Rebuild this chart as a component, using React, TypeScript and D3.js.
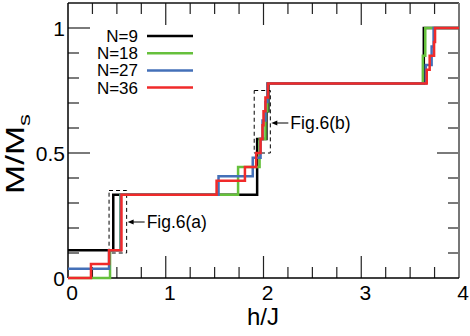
import React, { useRef, useEffect } from "react";
import * as d3 from "d3";

// step curves: field where each step starts, and M/Ms after it
const hN9 = [0, 0.463, 1.935, 2.03, 2.05, 3.64, 4];
const mN9 = [0.111, 0.333, 0.556, 0.667, 0.778, 1.0, 1.0];

const hN18 = [0, 0.43, 0.537, 1.74, 1.96, 2.02, 2.04, 3.63, 3.655, 4];
const mN18 = [0, 0.111, 0.333, 0.444, 0.556, 0.667, 0.778, 0.889, 1.0, 1.0];

const hN27 = [0, 0.42, 0.54, 1.54, 1.89, 1.97, 1.99, 2.02, 2.04, 3.66, 3.72, 3.74, 4];
const mN27 = [0.037, 0.111, 0.333, 0.407, 0.481, 0.556, 0.63, 0.704, 0.778, 0.852, 0.926, 1.0, 1.0];

const hN36 = [0, 0.235, 0.42, 0.547, 1.52, 1.81, 1.925, 1.97, 1.99, 2.0, 2.02, 2.045, 3.67, 3.7, 3.745, 3.755, 4];
const mN36 = [0, 0.056, 0.111, 0.333, 0.389, 0.444, 0.5, 0.556, 0.611, 0.667, 0.722, 0.778, 0.833, 0.889, 0.944, 1.0, 1.0];

const seriesLabels = ["N=9", "N=18", "N=27", "N=36"];
const seriesColors = ["#000000", "#66c03c", "#4470b8", "#f02a2a"];

const xTickLabels = [0, 1, 2, 3, 4];
const yTickLabels = [0, 0.5, 1];

// annotation boxes in data units: [h0, h1, m0, m1], with label and arrow y
const boxLabels = ["Fig.6(a)", "Fig.6(b)"];
const boxes = [
  [0.42, 0.6, 0.1, 0.35],
  [1.905, 2.07, 0.5, 0.75],
];
const arrowM = [0.224, 0.62];

const FONT = "'Liberation Sans', Arial, Helvetica, sans-serif";

export default function App() {
  const svgRef = useRef<SVGSVGElement>(null);
  const width = 470;
  const height = 336;

  useEffect(() => {
    const svg = d3.select(svgRef.current);
    svg.selectAll("*").remove();

    const x = d3.scaleLinear().domain([0, 4]).range([68, 459]);
    const y = d3.scaleLinear().domain([0, 1.1]).range([278, 3]);

    // ticks (inward on all four sides)
    const ticks = svg.append("g").attr("stroke", "#222").attr("stroke-width", 1.2);
    d3.range(0.25, 4, 0.25).forEach((h) => {
      const len = Math.abs(h - Math.round(h)) < 1e-6 ? 22 : 11;
      ticks.append("line").attr("x1", x(h)).attr("x2", x(h)).attr("y1", y(0)).attr("y2", y(0) - len);
      ticks.append("line").attr("x1", x(h)).attr("x2", x(h)).attr("y1", y(1.1)).attr("y2", y(1.1) + len);
    });
    d3.range(0.1, 1.09, 0.1).forEach((m) => {
      const major = Math.abs(m - 0.5) < 1e-6 || Math.abs(m - 1) < 1e-6;
      const len = major ? 22 : 11;
      ticks.append("line").attr("x1", x(0)).attr("x2", x(0) + len).attr("y1", y(m)).attr("y2", y(m));
      ticks.append("line").attr("x1", x(4)).attr("x2", x(4) - len).attr("y1", y(m)).attr("y2", y(m));
    });

    // frame
    svg.append("line").attr("x1", x(0)).attr("x2", x(4)).attr("y1", y(1.1)).attr("y2", y(1.1))
      .attr("stroke", "#111").attr("stroke-width", 1.5);
    svg.append("line").attr("x1", x(4)).attr("x2", x(4)).attr("y1", y(1.1)).attr("y2", y(0))
      .attr("stroke", "#777").attr("stroke-width", 2);
    svg.append("line").attr("x1", x(0)).attr("x2", x(0)).attr("y1", y(1.1)).attr("y2", y(0))
      .attr("stroke", "#000").attr("stroke-width", 1.5);
    svg.append("line").attr("x1", x(0)).attr("x2", x(4)).attr("y1", y(0)).attr("y2", y(0))
      .attr("stroke", "#000").attr("stroke-width", 1.5);

    // dashed boxes and arrows
    boxes.forEach((b, i) => {
      svg.append("rect")
        .attr("x", x(b[0])).attr("y", y(b[3]))
        .attr("width", x(b[1]) - x(b[0])).attr("height", y(b[2]) - y(b[3]))
        .attr("fill", "none").attr("stroke", "#000").attr("stroke-width", 1)
        .attr("stroke-dasharray", "4 3");
      const ay = y(arrowM[i]);
      const ax = x(b[1]) + 1;
      svg.append("line").attr("x1", ax + 4).attr("x2", ax + 17).attr("y1", ay).attr("y2", ay)
        .attr("stroke", "#000").attr("stroke-width", 1);
      svg.append("path")
        .attr("d", `M${ax},${ay} L${ax + 6},${ay - 2.5} L${ax + 6},${ay + 2.5} Z`)
        .attr("fill", "#000");
      svg.append("text").attr("x", ax + 19).attr("y", ay + 6)
        .attr("font-family", FONT).attr("font-size", 17.5)
        .text(boxLabels[i]);
    });

    // step curves
    const allH = [hN9, hN18, hN27, hN36];
    const allM = [mN9, mN18, mN27, mN36];
    const stepLine = d3.line<[number, number]>()
      .x((d) => x(d[0]))
      .y((d) => y(d[1]))
      .curve(d3.curveStepAfter);
    allH.forEach((hs, k) => {
      const pts = hs.map((h, i) => [h, allM[k][i]] as [number, number]);
      svg.append("path")
        .attr("d", stepLine(pts))
        .attr("fill", "none")
        .attr("stroke", seriesColors[k])
        .attr("stroke-width", 2.5);
    });

    // legend
    seriesLabels.forEach((lab, i) => {
      const cy = 36 + i * 17.2;
      svg.append("text").attr("x", 138).attr("y", cy + 6)
        .attr("text-anchor", "end").attr("font-family", FONT).attr("font-size", 17)
        .text(lab);
      svg.append("line").attr("x1", 147).attr("x2", 193).attr("y1", cy).attr("y2", cy)
        .attr("stroke", seriesColors[i]).attr("stroke-width", 2.5);
    });

    // tick labels
    xTickLabels.forEach((v) => {
      svg.append("text").attr("x", x(v) + 4).attr("y", 300)
        .attr("text-anchor", "middle").attr("font-family", FONT).attr("font-size", 21)
        .text(String(v));
    });
    yTickLabels.forEach((v) => {
      svg.append("text").attr("x", 65).attr("y", y(v) + 7.5)
        .attr("text-anchor", "end").attr("font-family", FONT).attr("font-size", 21)
        .text(String(v));
    });

    // axis titles
    svg.append("text").attr("x", 263).attr("y", 325)
      .attr("text-anchor", "middle").attr("font-family", FONT).attr("font-size", 24)
      .text("h/J");
    const yt = svg.append("text")
      .attr("transform", "translate(24,154) rotate(-90) scale(1.4,1)")
      .attr("text-anchor", "middle").attr("font-family", FONT).attr("font-size", 25);
    yt.append("tspan").text("M/M");
    yt.append("tspan").attr("font-size", 17).attr("dy", 6).text("s");
  }, []);

  return (
    <div>
      <svg
        ref={svgRef}
        width={width}
        height={height}
        style={{ position: "absolute", left: 0, top: 0, background: "#fff" }}
      />
    </div>
  );
}
